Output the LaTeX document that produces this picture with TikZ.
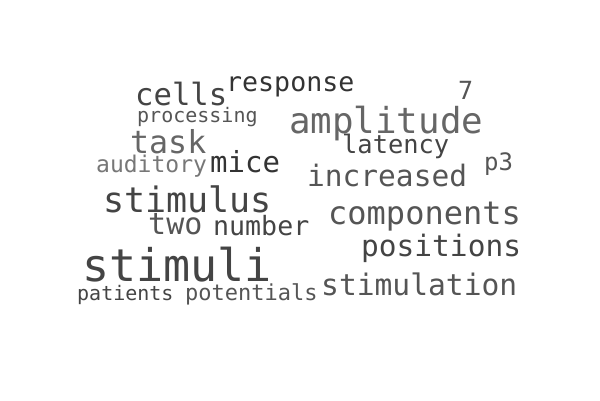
\documentclass[tikz,border=0pt]{standalone}
\usepackage{fontspec}
\newfontfamily\cloudfont{DejaVu Sans Mono}
\newcommand{\wsize}[1]{\cloudfont\fontsize{#1}{#1}\selectfont}
\definecolor{gA}{HTML}{333333}
\definecolor{gB}{HTML}{444444}
\definecolor{gC}{HTML}{555555}
\definecolor{gD}{HTML}{666666}
\definecolor{gE}{HTML}{777777}
\tikzset{word/.style={anchor=base west, inner sep=0pt}}

\begin{document}
\begin{tikzpicture}[x=1pt,y=-1pt]
			\useasboundingbox[fill=white] (0,0) rectangle (600,400);
			%% top rows
			\node[word, text=gA, font=\wsize{26.6}] (response) at (226,91) {response};
			\node[word, text=gC, font=\wsize{25}] (seven) at (458,99) {7};
			\node[word, text=gB, font=\wsize{30.6}] (cells) at (135,105) {cells};
			\node[word, text=gC, font=\wsize{20}] (processing) at (137,122) {processing};
			\node[word, text=gD, font=\wsize{35.8}] (amplitude) at (289,133) {amplitude};
			\node[word, text=gD, font=\wsize{31.6}] (task) at (130,153) {task};
			\node[word, text=gB, font=\wsize{25.4}] (latency) at (342,153) {latency};
			%% middle rows
			\node[word, text=gE, font=\wsize{23}] (auditory) at (96,172) {auditory};
			\node[word, text=gA, font=\wsize{29}] (mice) at (210,172) {mice};
			\node[word, text=gC, font=\wsize{24}] (pthree) at (484,170) {p3};
			\node[word, text=gC, font=\wsize{29.5}] (increased) at (307,186) {increased};
			\node[word, text=gB, font=\wsize{35}] (stimulus) at (103,212) {stimulus};
			\node[word, text=gC, font=\wsize{32}] (components) at (328,224) {components};
			\node[word, text=gC, font=\wsize{30}] (two) at (148,234) {two};
			\node[word, text=gB, font=\wsize{26.6}] (number) at (213,235) {number};
			\node[word, text=gB, font=\wsize{29.5}] (positions) at (361,256) {positions};
			%% bottom rows
			\node[word, text=gB, font=\wsize{45}] (stimuli) at (82,281) {stimuli};
			\node[word, text=gC, font=\wsize{29.6}] (stimulation) at (321,295) {stimulation};
			\node[word, text=gB, font=\wsize{20}] (patients) at (77,300) {patients};
			\node[word, text=gC, font=\wsize{22}] (potentials) at (185,300) {potentials};
\end{tikzpicture}
\end{document}
